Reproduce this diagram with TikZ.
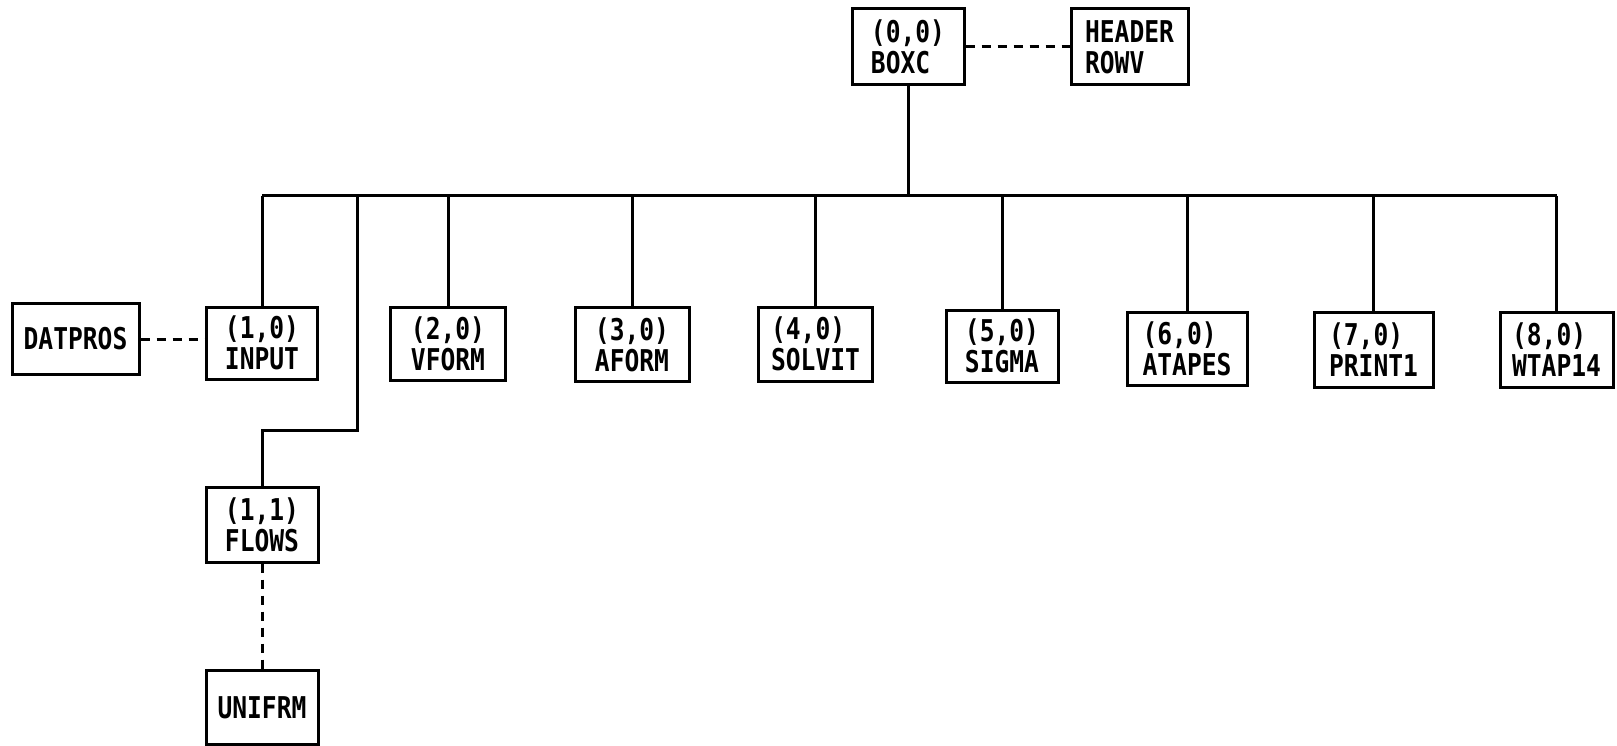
\documentclass[tikz,border=0pt]{standalone}
\usepackage{fontspec}
\setmainfont{DejaVu Sans Mono}[FakeStretch=0.82]
\begin{document}
\begin{tikzpicture}[x=1pt,y=-1pt,
  mod/.style={draw, line width=3pt, inner sep=0pt, minimum width=114pt, minimum height=74pt,
    align=left, font=\fontsize{30}{31}\selectfont\bfseries},
  link/.style={line width=3pt},
  dlink/.style={line width=3pt, dash pattern=on 9pt off 7pt}]
\useasboundingbox (0,0) rectangle (1617,746);
\node[mod, minimum width=112pt, minimum height=76pt] (boxc) at (908,47) {(0,0)\\BOXC};
\node[mod, minimum width=117pt, minimum height=76pt] (header) at (1129.5,47) {HEADER\\ROWV};
\node[mod, minimum width=127pt, minimum height=71pt] (datpros) at (75.5,339) {DATPROS};
\node[mod, minimum width=111pt, minimum height=72pt] (input) at (262,343) {(1,0)\\INPUT};
\node[mod, minimum width=115pt, minimum height=73pt] (vform) at (448,343.5) {(2,0)\\VFORM};
\node[mod] (aform) at (632,344.5) {(3,0)\\AFORM};
\node[mod] (solvit) at (815.5,344) {(4,0)\\SOLVIT};
\node[mod, minimum width=112pt, minimum height=72pt] (sigma) at (1002,346) {(5,0)\\SIGMA};
\node[mod, minimum width=120pt, minimum height=73pt] (atapes) at (1187,348.5) {(6,0)\\ATAPES};
\node[mod, minimum width=119pt, minimum height=75pt] (print1) at (1373.5,349.5) {(7,0)\\PRINT1};
\node[mod, minimum width=113pt, minimum height=75pt] (wtap14) at (1556.5,349.5) {(8,0)\\WTAP14};
\node[mod, minimum width=112pt, minimum height=75pt] (flows) at (262,524.5) {(1,1)\\FLOWS};
\node[mod, minimum width=112pt, minimum height=74pt] (unifrm) at (262,707.5) {UNIFRM};
\coordinate (busL) at (262,196);
\coordinate (busR) at (1556.5,196);
\coordinate (fork) at (357,196);
\coordinate (bend) at (357,430);
\draw[link] (busL) -- (busR);
\draw[link] (boxc.south) -- (boxc.south |- busL);
\foreach \n in {input,vform,aform,solvit,sigma,atapes,print1,wtap14}
  \draw[link] (\n.north |- busL) -- (\n.north);
\draw[link] (fork) -- (bend) -| (flows.north);
\draw[dlink] (boxc.east) -- (header.west);
\draw[dlink] (datpros.east) -- (datpros.east -| input.west);
\draw[dlink] (flows.south) -- (unifrm.north);
\end{tikzpicture}
\end{document}
